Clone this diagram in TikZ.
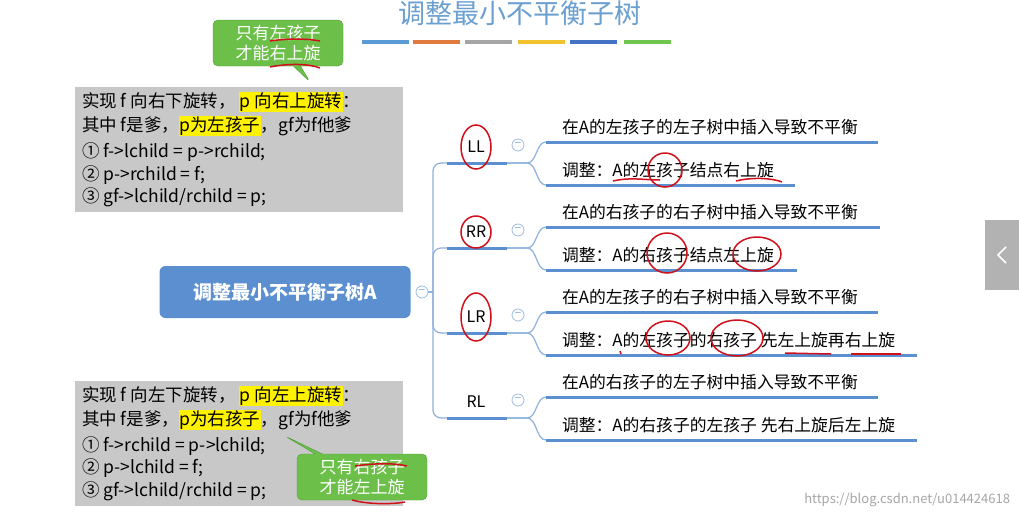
\documentclass[tikz,border=0pt]{standalone}
\usepackage{fontspec}
\setmainfont{Noto Sans CJK SC}
\usetikzlibrary{positioning,shapes.callouts}
\definecolor{mapblue}{HTML}{5B8FD0}
\definecolor{titleblue}{HTML}{6A9FD0}
\definecolor{notegray}{HTML}{C8C8C8}
\definecolor{callgreen}{HTML}{6CC04A}
\definecolor{callline}{HTML}{4E9A35}
\definecolor{hand}{HTML}{D0101A}
\newcommand\hl[1]{{\setlength{\fboxsep}{0.5pt}\colorbox{yellow}{#1}}}
\tikzset{
 every node/.style={inner sep=0pt,outer sep=0pt},
 note/.style={fill=notegray,minimum width=328,minimum height=125,anchor=north west},
 noteline/.style={anchor=west,font=\fontsize{17.5}{19}\selectfont},
 callbox/.style={rectangle callout,rounded corners=5,fill=callgreen,draw=callline,
   text=white,align=center,minimum width=130,minimum height=46,
   font=\fontsize{17}{20}\selectfont},
 conn/.style={draw=mapblue!70,line width=1.2pt},
 bar/.style={draw=mapblue,line width=3pt},
 leaf/.style={anchor=west,font=\fontsize{16.8}{19}\selectfont},
 kind/.style={font=\fontsize{16}{18}\selectfont},
 fold/.style={circle,draw=mapblue!60,line width=0.8pt,minimum size=12,
   font=\fontsize{12}{12}\selectfont,text=mapblue!70},
 inkmark/.style={draw=hand,line width=1.5pt}
}
\begin{document}
\begin{tikzpicture}[x=1pt,y=-1pt]
\useasboundingbox (0,0) rectangle (1019,520);
\fill[white] (0,0) rectangle (1019,520);
% title and colour bars
\node[text=titleblue,font=\fontsize{27}{27}\selectfont] (title) at (520,13) {调整最小不平衡子树};
\foreach \x/\c in {362/5B9BD5,413/E07A3F,465/A5A5A5,518/F2C12E,570/4472C4,624/70C64E}{
  \definecolor{barcol}{HTML}{\c}
  \fill[barcol] (\x,40) rectangle +(47,4);
}
% side tab
\fill[gray!60] (985,220) rectangle (1019,290);
\draw[white,line width=1.5pt] (1006,247) -- (998,255) -- (1006,263);
% upper note
\node[note] (noteR) at (75,87) {};
\node[noteline] (r1) at (82,102) {实现 f 向右下旋转， \hl{p 向右上旋转}：};
\node[noteline] (r2) at (82,126) {其中 f是爹，\hl{p为左孩子}，gf为f他爹};
\node[noteline] (r3) at (82,152) {① f->lchild = p->rchild;};
\node[noteline] (r4) at (82,175) {② p->rchild = f;};
\node[noteline] (r5) at (82,197) {③ gf->lchild/rchild = p;};
\node[callbox,callout absolute pointer={(310,82)}] (callR) at (278,43) {只有左孩子\\才能右上旋};
% lower note
\node[note] (noteL) at (75,381) {};
\node[noteline] (l1) at (82,396) {实现 f 向左下旋转， \hl{p 向左上旋转}：};
\node[noteline] (l2) at (82,420) {其中 f是爹，\hl{p为右孩子}，gf为f他爹};
\node[noteline] (l3) at (82,446) {① f->rchild = p->lchild;};
\node[noteline] (l4) at (82,468) {② p->lchild = f;};
\node[noteline] (l5) at (82,491) {③ gf->lchild/rchild = p;};
\node[callbox,callout absolute pointer={(285,436)}] (callL) at (362,477) {只有右孩子\\才能左上旋};
% central topic
\node[fill=mapblue,rounded corners=6,minimum width=251,minimum height=52,text=white,
  font=\bfseries\fontsize{19}{19}\selectfont] (root) at (285,292) {调整最小不平衡子树A};
\node[fold] (rootfold) at (422,292) {−};
\coordinate (hub) at (433,292);
\draw[conn] (rootfold) -- (hub);
% branches
\foreach \name/\y/\a/\b/\la/\lb in {
  LL/163/在A的左孩子的左子树中插入导致不平衡/调整：A的左孩子结点右上旋/878/795,
  RR/248/在A的右孩子的右子树中插入导致不平衡/调整：A的右孩子结点左上旋/880/797,
  LR/333/在A的左孩子的右子树中插入导致不平衡/调整：A的左孩子的右孩子 先左上旋再右上旋/878/917,
  RL/418/在A的右孩子的左子树中插入导致不平衡/调整：A的右孩子的左孩子 先右上旋后左上旋/878/917}{
  \node[kind] (k\name) at (476,\y-16) {\name};
  \coordinate (s\name) at (447,\y);
  \coordinate (e\name) at (507,\y);
  \draw[conn,rounded corners=8] (hub) |- (s\name);
  \draw[bar] (s\name) -- (e\name);
  \node[fold] (f\name) at (518,\y-18) {−};
  \coordinate (u\name) at (546,\y-21);
  \coordinate (d\name) at (546,\y+22);
  \draw[conn] (e\name) -- +(20,0) .. controls +(10,0) and +(-10,0) .. (u\name);
  \draw[conn] (e\name) -- +(20,0) .. controls +(10,0) and +(-10,0) .. (d\name);
  \draw[bar] (u\name) -- (\la,\y-21);
  \draw[bar] (d\name) -- (\lb,\y+22);
  \node[leaf] (t\name) at (562,\y-36) {\a};
  \node[leaf] (b\name) at (562,\y+7) {\b};
}
% handwritten marks
\draw[inkmark] (kLL) ellipse (15 and 22);
\draw[inkmark] (kRR) ellipse (15 and 16);
\draw[inkmark] (kLR) ellipse (15 and 24);
\draw[inkmark] (665,170) ellipse (17 and 17);
\draw[inkmark] (667,253) ellipse (20 and 20);
\draw[inkmark] (757,254) ellipse (24 and 17);
\draw[inkmark] (668,338) ellipse (22 and 17);
\draw[inkmark] (737,338) ellipse (26 and 18);
\draw[inkmark] (613,181) .. controls (630,177) and (645,180) .. (660,180);
\draw[inkmark] (736,181) .. controls (752,177) and (772,178) .. (782,182);
\draw[inkmark] (785,353) -- (831,354);
\draw[inkmark] (851,354) -- (901,354);
\draw[inkmark] (620,351) -- (621,354);
\draw[inkmark] (270,41) .. controls (290,38) and (310,39) .. (320,41);
\draw[inkmark] (270,67) .. controls (290,63) and (310,64) .. (320,68);
\draw[inkmark] (355,466) .. controls (375,463) and (395,463) .. (407,466);
\draw[inkmark] (352,500) .. controls (370,505) and (395,504) .. (405,502);
% watermark
\node[text=gray!70,anchor=east,font=\fontsize{13}{13}\selectfont] (wm) at (1010,500) {https://blog.csdn.net/u014424618};
\end{tikzpicture}
\end{document}
